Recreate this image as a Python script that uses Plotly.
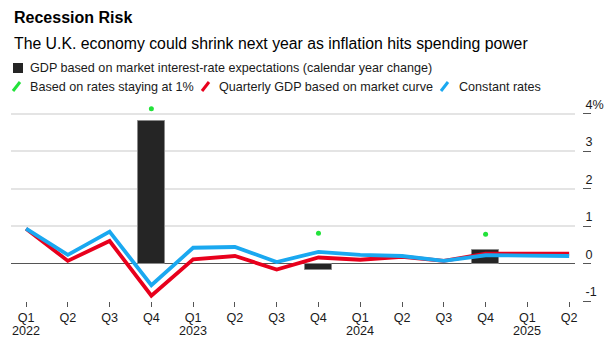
import plotly.graph_objects as go

# ---------------- data ----------------
quarters = ["2022 Q1", "2022 Q2", "2022 Q3", "2022 Q4",
            "2023 Q1", "2023 Q2", "2023 Q3", "2023 Q4",
            "2024 Q1", "2024 Q2", "2024 Q3", "2024 Q4",
            "2025 Q1", "2025 Q2"]
tick_labels = ["Q1", "Q2", "Q3", "Q4",
               "Q1", "Q2", "Q3", "Q4",
               "Q1", "Q2", "Q3", "Q4",
               "Q1", "Q2"]
year_positions = ["2022 Q1", "2023 Q1", "2024 Q1", "2025 Q1"]
year_labels = ["2022", "2023", "2024", "2025"]
gdp_calendar = [None, None, None, 3.8, None, None, None, -0.18,
                None, None, None, 0.35, None, None]
rates_at_1pct = [None, None, None, 4.13, None, None, None, 0.81,
                 None, None, None, 0.78, None, None]
market_curve = [0.93, 0.07, 0.60, -0.86, 0.11, 0.20, -0.16, 0.16,
                0.10, 0.18, 0.07, 0.26, 0.26, 0.26]
constant_rates = [0.93, 0.23, 0.85, -0.58, 0.42, 0.44, 0.04, 0.31,
                  0.23, 0.20, 0.07, 0.22, 0.21, 0.20]
y_ticks = [-1, 0, 1, 2, 3, 4]
y_tick_text = ["-1", "0", "1", "2", "3", "4%"]

legend_bar = "GDP based on market interest-rate expectations (calendar year change)"
legend_green = "Based on rates staying at 1%"
legend_red = "Quarterly GDP based on market curve"
legend_blue = "Constant rates"

# ---------------- style ----------------
FONT = "Liberation Sans, Arial, Helvetica, sans-serif"
C_BAR = "#252525"
C_GREEN = "#22e23a"
C_RED = "#e8001c"
C_BLUE = "#1aa8f0"

W, H = 615, 348
ML, MR, MT, MB = 11, 20, 100, 47
PW = W - ML - MR
PH = H - MT - MB


def px(x):
    return (x - ML) / PW


def py(y):
    return (H - MB - y) / PH


fig = go.Figure()
fig.add_trace(go.Bar(x=quarters, y=gdp_calendar, name=legend_bar, width=0.66,
                     marker=dict(color=C_BAR, line=dict(color="#8a8a8a", width=1)),
                     showlegend=False))
fig.add_trace(go.Scatter(x=quarters, y=rates_at_1pct, name=legend_green, mode="markers",
                         marker=dict(color=C_GREEN, size=5), showlegend=False))
fig.add_trace(go.Scatter(x=quarters, y=market_curve, name=legend_red, mode="lines",
                         line=dict(color=C_RED, width=3.8), showlegend=False))
fig.add_trace(go.Scatter(x=quarters, y=constant_rates, name=legend_blue, mode="lines",
                         line=dict(color=C_BLUE, width=3.8), showlegend=False))

x_end = (575 - ML) / PW
fig.update_layout(
    width=W, height=H,
    margin=dict(l=ML, r=MR, t=MT, b=MB, autoexpand=False),
    paper_bgcolor="white", plot_bgcolor="white",
    font=dict(family=FONT, size=13, color="#1a1a1a"),
    bargap=0,
    xaxis=dict(type="category", domain=[0, x_end], range=[-0.36, 13.14],
               tickvals=quarters, ticktext=tick_labels, automargin=False,
               ticks="outside", ticklen=5, tickwidth=1, tickcolor="#555",
               showgrid=False, zeroline=False, showline=False,
               tickfont=dict(size=12.6, color="#1a1a1a")),
    yaxis=dict(range=[-1, 4.36], tickvals=y_ticks, ticktext=y_tick_text,
               side="right", anchor="free", position=px(582), automargin=False,
               ticks="outside", ticklen=8, tickwidth=1, tickcolor="#555",
               ticklabelposition="outside top",
               showgrid=True, gridcolor="#e4e4e4", gridwidth=1.5,
               zeroline=True, zerolinecolor="#555", zerolinewidth=1,
               showline=False,
               tickfont=dict(size=12.6, color="#1a1a1a")),
    showlegend=False,
)

ann = []
ann.append(dict(text="<b>Recession Risk</b>", x=px(12), y=py(17), xref="paper", yref="paper",
                xanchor="left", yanchor="middle", showarrow=False,
                font=dict(size=16, color="#000")))
ann.append(dict(text="The U.K. economy could shrink next year as inflation hits spending power",
                x=px(12), y=py(43), xref="paper", yref="paper",
                xanchor="left", yanchor="middle", showarrow=False,
                font=dict(size=15.8, color="#000")))
ann.append(dict(text=legend_bar, x=px(28), y=py(68), xref="paper", yref="paper",
                xanchor="left", yanchor="middle", showarrow=False,
                font=dict(size=12.6, color="#1a1a1a")))
for txt, xs in [(legend_green, 28), (legend_red, 217), (legend_blue, 457)]:
    ann.append(dict(text=txt, x=px(xs), y=py(87), xref="paper", yref="paper",
                    xanchor="left", yanchor="middle", showarrow=False,
                    font=dict(size=12.6, color="#1a1a1a")))
for pos, lab in zip(year_positions, year_labels):
    ann.append(dict(text=lab, x=pos, y=py(331), xref="x", yref="paper",
                    xanchor="center", yanchor="middle", showarrow=False,
                    font=dict(size=12.6, color="#1a1a1a")))

shapes = []
shapes.append(dict(type="rect", xref="paper", yref="paper",
                   x0=px(13), x1=px(23), y0=py(73), y1=py(63),
                   fillcolor=C_BAR, line=dict(width=0)))
for col, x0 in [(C_GREEN, 13), (C_RED, 202), (C_BLUE, 441)]:
    shapes.append(dict(type="line", xref="paper", yref="paper",
                       x0=px(x0), x1=px(x0 + 7), y0=py(91), y1=py(82),
                       line=dict(color=col, width=3)))

fig.update_layout(annotations=ann, shapes=shapes)
fig.write_html("out.html")
